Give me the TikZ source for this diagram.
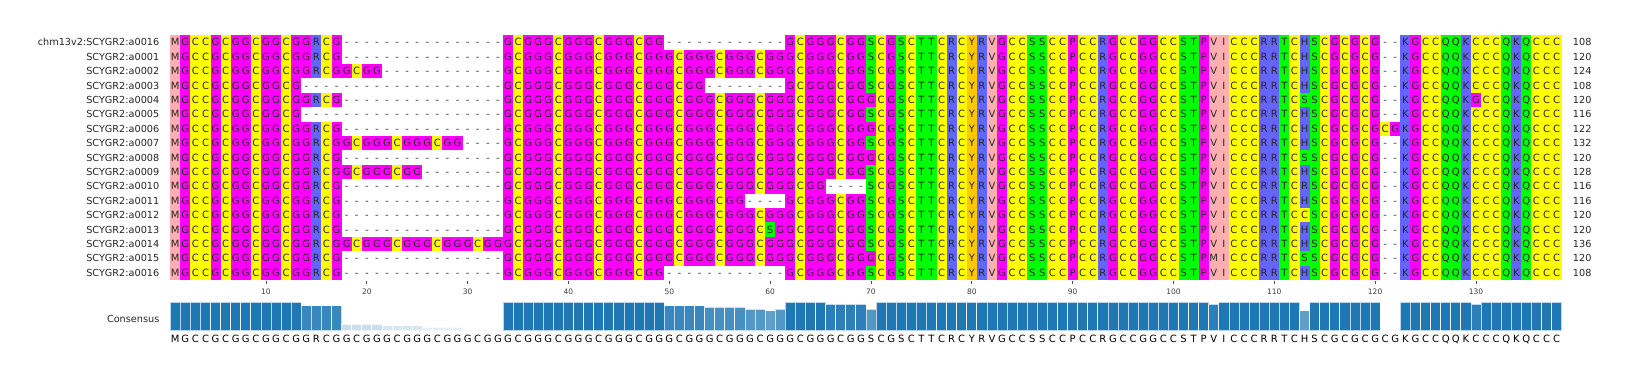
\documentclass[tikz,border=0pt]{standalone}
\usepackage{fontspec}
\setmainfont{DejaVu Sans}
\usepackage{xcolor}
\usepackage{tikz}

% zappo residue colours
\definecolor{zappoHydro}{HTML}{FFAFAF}
\definecolor{zappoSpecial}{HTML}{FF00FF}
\definecolor{zappoCys}{HTML}{FFFF00}
\definecolor{zappoPos}{HTML}{6464FF}
\definecolor{zappoPhil}{HTML}{00FF00}
\definecolor{zappoArom}{HTML}{FFC800}
\definecolor{tabblue}{HTML}{1F77B4}
\definecolor{inkgray}{HTML}{262626}

\tikzset{
  resM/.style={fill=zappoHydro}, resV/.style={fill=zappoHydro}, resI/.style={fill=zappoHydro},
  resG/.style={fill=zappoSpecial}, resP/.style={fill=zappoSpecial},
  resC/.style={fill=zappoCys},
  resR/.style={fill=zappoPos}, resH/.style={fill=zappoPos}, resK/.style={fill=zappoPos},
  resS/.style={fill=zappoPhil}, resT/.style={fill=zappoPhil}, resQ/.style={fill=zappoPhil},
  resY/.style={fill=zappoArom},
  reschar/.style={inner sep=0pt, text height=7.3pt, text depth=0pt, text=inkgray,
    font=\fontsize{10}{12}\selectfont},
  gapchar/.style={reschar, text=inkgray!90},
  seqlabel/.style={anchor=east, inner sep=0pt, text height=7pt, text depth=0pt, text=inkgray,
    font=\fontsize{9.7}{12}\selectfont},
  seqlen/.style={seqlabel, anchor=west},
  ticklabel/.style={inner sep=0pt, text=inkgray!90, font=\fontsize{7.5}{9}\selectfont},
  consbar/.style={fill=tabblue, draw=white, draw opacity=0.7, line width=0.8pt},
}

% walk along one aligned sequence, one cell per letter
\newcount\colno
\def\seqrow#1#2{\global\colno=0 \def\rowno{#1}\seqloop#2\relax}
\def\seqloop#1{\ifx#1\relax\else\seqcell#1\expandafter\seqloop\fi}
\def\seqcell#1{%
  \global\advance\colno by 1
  \pgfmathsetmacro\cellx{170.2+(\the\colno-1)*10.083}%
  \pgfmathsetmacro\celly{35.1+(\rowno-1)*14.4}%
  \if#1-%
    \node[gapchar] (r\rowno-\the\colno) at (\cellx+5.04,\celly+7.2) {-};%
  \else
    \fill[res#1] (\cellx,\celly) rectangle ++(10.15,14.45);%
    \node[reschar] (r\rowno-\the\colno) at (\cellx+5.04,\celly+7.2) {#1};%
  \fi}
% consensus letters under the bars
\def\consrow#1{\global\colno=0 \consloop#1\relax}
\def\consloop#1{\ifx#1\relax\else\conscell#1\expandafter\consloop\fi}
\def\conscell#1{%
  \global\advance\colno by 1
  \pgfmathsetmacro\cellx{170.2+(\the\colno-1)*10.083}%
  \node[reschar, text=black] (cons-\the\colno) at (\cellx+5.04,339.3) {#1};}

\begin{document}
\begin{tikzpicture}[x=1pt, y=-1pt]
  \fill[white] (0,0) rectangle (1626,380);
  \useasboundingbox (0,0) rectangle (1626,380);

  % alignment rows
  \seqrow{1}{MGCCGCGGCG GCGGRCG--- ---------- ---GCGGGCG GGCGGGCGG- ---------- -GCGGGCGGS CGSCTTCRCY RVGCCSSCCP CCRGCCGGCC STPVICCCRR TCHSCGCGCG --KGCCQQKC CCQKQCCC}
  \seqrow{2}{MGCCGCGGCG GCGGRCG--- ---------- ---GCGGGCG GGCGGGCGGG CGGGCGGGCG GGCGGGCGGS CGSCTTCRCY RVGCCSSCCP CCRGCCGGCC STPVICCCRR TCHSCGCGCG --KGCCQQKC CCQKQCCC}
  \seqrow{3}{MGCCGCGGCG GCGGRCGGCG G--------- ---GCGGGCG GGCGGGCGGG CGGGCGGGCG GGCGGGCGGS CGSCTTCRCY RVGCCSSCCP CCRGCCGGCC STPVICCCRR TCHSCGCGCG --KGCCQQKC CCQKQCCC}
  \seqrow{4}{MGCCGCGGCG GCG------- ---------- ---GCGGGCG GGCGGGCGGG CGG------- -GCGGGCGGS CGSCTTCRCY RVGCCSSCCP CCRGCCGGCC STPVICCCRR TCHSCGCGCG --KGCCQQKC CCQKQCCC}
  \seqrow{5}{MGCCGCGGCG GCGGRCG--- ---------- ---GCGGGCG GGCGGGCGGG CGGGCGGGCG GGCGGGCGGG CGSCTTCRCY RVGCCSSCCP CCRGCCGGCC STPVICCCRR TCSSCGCGCG --KGCCQQKG CCQKQCCC}
  \seqrow{6}{MGCCGCGGCG GCG------- ---------- ---GCGGGCG GGCGGGCGGG CGGGCGGGCG GGCGGGCGGS CGSCTTCRCY RVGCCSSCCP CCRGCCGGCC STPVICCCRR TCHSCGCGCG --KGCCQQKC CCQKQCCC}
  \seqrow{7}{MGCCGCGGCG GCGGRCG--- ---------- ---GCGGGCG GGCGGGCGGG CGGGCGGGCG GGCGGGCGGG CGSCTTCRCY RVGCCSSCCP CCRGCCGGCC STPVICCCRR TCHSCGCGCG CGKGCCQQKC CCQKQCCC}
  \seqrow{8}{MGCCGCGGCG GCGGRCGGCG GGCGGGCGG- ---GCGGGCG GGCGGGCGGG CGGGCGGGCG GGCGGGCGGS CGSCTTCRCY RVGCCSSCCP CCRGCCGGCC STPVICCCRR TCHSCGCGCG --KGCCQQKC CCQKQCCC}
  \seqrow{9}{MGCCGCGGCG GCGGRCG--- ---------- ---GCGGGCG GGCGGGCGGG CGGGCGGGCG GGCGGGCGGG CGSCTTCRCY RVGCCSSCCP CCRGCCGGCC STPVICCCRR TCSSCGCGCG --KGCCQQKC CCQKQCCC}
  \seqrow{10}{MGCCGCGGCG GCGGRCGGCG GGCGG----- ---GCGGGCG GGCGGGCGGG CGGGCGGGCG GGCGGGCGGS CGSCTTCRCY RVGCCSSCCP CCRGCCGGCC STPVICCCRR TCHSCGCGCG --KGCCQQKC CCQKQCCC}
  \seqrow{11}{MGCCGCGGCG GCGGRCG--- ---------- ---GCGGGCG GGCGGGCGGG CGGGCGGGCG GGCGG----S CGSCTTCRCY RVGCCSSCCP CCRGCCGGCC STPVICCCRR TCRSCGCGCG --KGCCQQKC CCQKQCCC}
  \seqrow{12}{MGCCGCGGCG GCGGRCG--- ---------- ---GCGGGCG GGCGGGCGGG CGGGCGG--- -GCGGGCGGS CGSCTTCRCY RVGCCSSCCP CCRGCCGGCC STPVICCCRR TCHSCGCGCG --KGCCQQKC CCQKQCCC}
  \seqrow{13}{MGCCGCGGCG GCGGRCG--- ---------- ---GCGGGCG GGCGGGCGGG CGGGCGGGCG GGCGGGCGGS CGSCTTCRCY RVGCCSSCCP CCRGCCGGCC STPVICCCRR TCCSCGCGCG --KGCCQQKC CCQKQCCC}
  \seqrow{14}{MGCCGCGGCG GCGGRCG--- ---------- ---GCGGGCG GGCGGGCGGG CGGGCGGGCS GGCGGGCGGS CGSCTTCRCY RVGCCSSCCP CCRGCCGGCC STPVICCCRR TCHSCGCGCG --KGCCQQKC CCQKQCCC}
  \seqrow{15}{MGCCGCGGCG GCGGRCGGCG GGCGGGCGGG CGGGCGGGCG GGCGGGCGGG CGGGCGGGCG GGCGGGCGGS CGSCTTCRCY RVGCCSSCCP CCRGCCGGCC STPVICCCRR TCHSCGCGCG --KGCCQQKC CCQKQCCC}
  \seqrow{16}{MGCCGCGGCG GCGGRCG--- ---------- ---GCGGGCG GGCGGGCGGG CGGGCGGGCG GGCGGGCGGG CGSCTTCRCY RVGCCSSCCP CCRGCCGGCC STPMICCCRR TCSSCGCGCG --KGCCQQKC CCQKQCCC}
  \seqrow{17}{MGCCGCGGCG GCGGRCG--- ---------- ---GCGGGCG GGCGGGCGG- ---------- -GCGGGCGGS CGSCTTCRCY RVGCCSSCCP CCRGCCGGCC STPVICCCRR TCHSCGCGCG --KGCCQQKC CCQKQCCC}

  % sequence names and lengths
  \foreach \lab [count=\i] in {chm13v2:SCYGR2:a0016, SCYGR2:a0001, SCYGR2:a0002, SCYGR2:a0003,
      SCYGR2:a0004, SCYGR2:a0005, SCYGR2:a0006, SCYGR2:a0007, SCYGR2:a0008, SCYGR2:a0009,
      SCYGR2:a0010, SCYGR2:a0011, SCYGR2:a0012, SCYGR2:a0013, SCYGR2:a0014, SCYGR2:a0015, SCYGR2:a0016}
    \node[seqlabel] (lab\i) at (159.5, {42.3+(\i-1)*14.4}) {\lab};
  \foreach \len [count=\i] in {108,120,124,108,120,116,122,132,120,128,116,116,120,120,136,120,108}
    \node[seqlen] (len\i) at (1572.7, {42.3+(\i-1)*14.4}) {\len};

  % position ruler
  \foreach \t in {10,20,...,130} {
    \draw[inkgray!80, line width=0.8pt] ({170.2+(\t-0.5)*10.083},280.5) -- ++(0,3.5);
    \node[ticklabel] (tick\t) at ({170.2+(\t-0.5)*10.083},291.7) {\t};
  }

  % consensus bars (count of consensus residue out of 17)
  \foreach \a/\b/\n in {1/13/17, 14/17/15, 18/21/4, 22/25/3, 26/29/2, 30/33/1, 34/49/17,
      50/53/15, 54/57/14, 58/59/13, 60/60/12, 61/61/13, 62/65/17, 66/69/16, 70/70/13,
      71/103/17, 104/104/16, 105/112/17, 113/113/12, 114/120/17, 121/122/1, 123/129/17,
      130/130/16, 131/138/17}
    \foreach \c in {\a,...,\b} {
      \pgfmathsetmacro\op{\n/17}
      \filldraw[consbar, fill opacity=\op] ({170.2+(\c-1)*10.083},330.7) rectangle ++(10.083,{-28.4*\n/17});
    }
  \node[seqlabel] (conslab) at (159.5,319.3) {Consensus};
  \consrow{MGCCGCGGCG GCGGRCGGCG GGCGGGCGGG CGGGCGGGCG GGCGGGCGGG CGGGCGGGCG GGCGGGCGGS CGSCTTCRCY RVGCCSSCCP CCRGCCGGCC STPVICCCRR TCHSCGCGCG CGKGCCQQKC CCQKQCCC}
\end{tikzpicture}
\end{document}
